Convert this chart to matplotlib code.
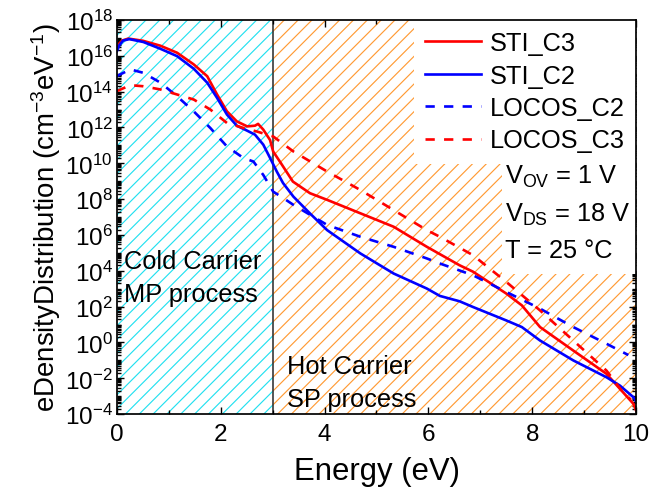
import numpy as np
import matplotlib
matplotlib.use("Agg")
import matplotlib.pyplot as plt
from matplotlib.patches import Rectangle
from matplotlib.ticker import FixedLocator, LogLocator, NullFormatter, MultipleLocator

# values (energy in eV, log10 of density)
sti_c3_e = [0.0, 0.05, 0.1, 0.22, 0.5, 0.84, 1.16, 1.48, 1.74, 1.93, 2.12, 2.31, 2.51, 2.66,
            2.72, 2.82, 2.95, 3.01, 3.15, 3.39, 3.72, 4.05, 4.69, 5.33, 5.97, 6.6, 6.86,
            7.5, 7.8, 8.15, 8.79, 9.43, 9.69, 9.95, 10.0]
sti_c3_log = [16.4, 16.7, 16.85, 16.96, 16.84, 16.56, 16.17, 15.52, 14.86, 13.84, 12.9, 12.34,
              12.06, 12.1, 12.2, 11.88, 11.3, 10.66, 10.05, 8.98, 8.33, 7.96, 7.21, 6.46, 5.34,
              4.31, 3.95, 2.73, 2.07, 0.86, -0.45, -1.75, -2.59, -3.43, -3.8]

sti_c2_e = [0.0, 0.05, 0.12, 0.24, 0.51, 0.84, 1.16, 1.48, 1.74, 1.93, 2.12, 2.31, 2.51, 2.66,
            2.82, 2.95, 3.08, 3.2, 3.4, 3.72, 4.05, 4.69, 5.33, 5.97, 6.22, 6.6, 6.86, 7.5,
            7.8, 8.15, 8.79, 9.43, 9.69, 9.95, 10.0]
sti_c2_log = [16.26, 16.6, 16.85, 16.93, 16.77, 16.39, 15.98, 15.28, 14.5, 13.65, 12.72, 12.1,
              11.82, 11.6, 11.04, 10.3, 9.54, 8.9, 8.14, 7.2, 6.27, 4.97, 3.85, 3.01, 2.6, 2.3,
              1.98, 1.23, 0.86, 0.11, -1.0, -1.94, -2.41, -3.06, -3.3]

locos_c2_e = [0.0, 0.26, 0.51, 0.84, 1.16, 1.48, 1.8, 2.12, 2.44, 2.63, 2.82, 3.01, 3.21, 3.4,
              4.05, 4.69, 5.33, 5.97, 6.22, 6.86, 7.5, 8.15, 8.79, 9.43, 9.85]
locos_c2_log = [14.87, 15.24, 15.05, 14.5, 13.74, 12.9, 11.97, 10.94, 10.29, 10.1, 9.35, 8.42,
                8.05, 7.68, 6.56, 5.9, 5.34, 4.69, 4.41, 3.75, 2.82, 1.89, 0.86, -0.07, -0.7]

locos_c3_e = [0.0, 0.26, 0.51, 0.84, 1.16, 1.48, 1.8, 2.12, 2.44, 2.69, 3.01, 3.4, 4.05, 4.69,
              5.33, 5.97, 6.22, 6.86, 7.5, 8.15, 8.79, 9.43, 9.7, 9.9]
locos_c3_log = [14.03, 14.36, 14.3, 14.12, 13.84, 13.56, 13.0, 12.25, 11.97, 11.78, 11.5, 10.66,
                9.54, 8.51, 7.39, 6.27, 5.9, 4.87, 3.38, 1.79, 0.11, -1.57, -2.6, -3.2]

y_exponents = [18, 16, 14, 12, 10, 8, 6, 4, 2, 0, -2, -4]

plt.rcParams["font.family"] = ["Liberation Sans", "DejaVu Sans"]
plt.rcParams["mathtext.default"] = "regular"
plt.rcParams["hatch.linewidth"] = 1.0

fig = plt.figure(figsize=(8.0, 6.012), dpi=83)
ax = fig.add_axes([0.176, 0.168, 0.782, 0.790])

# process regions
ax.axvspan(0, 3, facecolor="white", edgecolor="#22E0F0", hatch="//", linewidth=0, zorder=0)
ax.axvspan(3, 10, facecolor="white", edgecolor="#FF9A33", hatch="//", linewidth=0, zorder=0)
ax.axvline(3, color="#333333", linewidth=1.4, zorder=1)

lw = 2.3
ax.plot(sti_c3_e, np.power(10.0, sti_c3_log), color="red", lw=lw, label="STI_C3", zorder=3)
ax.plot(sti_c2_e, np.power(10.0, sti_c2_log), color="blue", lw=lw, label="STI_C2", zorder=3)
ax.plot(locos_c2_e, np.power(10.0, locos_c2_log), color="blue", lw=lw, dashes=(3.5, 3.5),
        label="LOCOS_C2", zorder=3)
ax.plot(locos_c3_e, np.power(10.0, locos_c3_log), color="red", lw=lw, dashes=(3.5, 3.5),
        label="LOCOS_C3", zorder=3)

ax.set_yscale("log")
ax.set_xlim(0, 10)
ax.set_ylim(1e-4, 1e18)

ax.xaxis.set_major_locator(MultipleLocator(2))
ax.xaxis.set_minor_locator(MultipleLocator(1))
ax.yaxis.set_major_locator(FixedLocator([10.0 ** k for k in y_exponents]))
ax.yaxis.set_minor_locator(LogLocator(base=10, subs=np.arange(1, 10), numticks=400))
ax.yaxis.set_minor_formatter(NullFormatter())
ax.set_yticklabels(["$10^{%d}$" % k for k in y_exponents])

ax.tick_params(which="both", direction="in", top=True, right=True, labelsize=21, width=1.2)
ax.tick_params(which="major", length=6)
ax.tick_params(which="minor", length=3.5)
ax.tick_params(axis="x", pad=8)
for s in ax.spines.values():
    s.set_linewidth(1.5)
    s.set_zorder(6)

ax.set_xlabel("Energy (eV)", fontsize=27, labelpad=9)
ax.set_ylabel("eDensityDistribution (cm$^{-3}$eV$^{-1}$)", fontsize=24, labelpad=2)

leg = ax.legend(loc="upper right", fontsize=22, frameon=True, fancybox=False,
                borderaxespad=0, handlelength=2.2, handletextpad=0.35, labelspacing=0.33,
                borderpad=0.45)
leg.get_frame().set_facecolor("white")
leg.get_frame().set_edgecolor("none")
leg.get_frame().set_alpha(1)
leg.set_zorder(5)

# white panel behind the bias conditions
ax.add_patch(Rectangle((0.741, 0.355), 0.259, 0.307, transform=ax.transAxes,
                       facecolor="white", edgecolor="none", zorder=4))
ax.text(0.748, 0.638, "V$_{OV}$ = 1 V\nV$_{DS}$ = 18 V\nT = 25 \u00b0C", transform=ax.transAxes,
        ha="left", va="top", fontsize=22, linespacing=1.6, zorder=5)

ax.text(0.013, 0.418, "Cold Carrier\nMP process", transform=ax.transAxes, ha="left",
        va="top", fontsize=22, linespacing=1.45, zorder=4)
ax.text(0.327, 0.152, "Hot Carrier\nSP process", transform=ax.transAxes, ha="left",
        va="top", fontsize=22, linespacing=1.45, zorder=4)

fig.savefig("out.png", dpi=83)
